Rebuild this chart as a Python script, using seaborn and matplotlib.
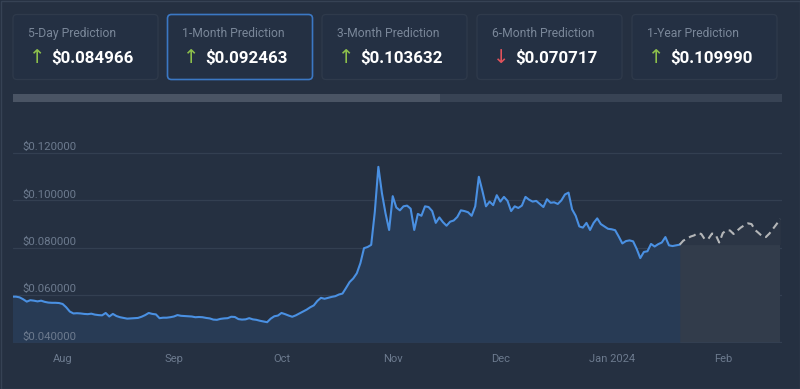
import pandas as pd
import matplotlib.pyplot as plt
import matplotlib.transforms as mtransforms
from matplotlib.patches import FancyBboxPatch, Rectangle
import seaborn as sns

# prediction cards
card_titles = ['5-Day Prediction', '1-Month Prediction', '3-Month Prediction',
               '6-Month Prediction', '1-Year Prediction']
card_values = ['$0.084966', '$0.092463', '$0.103632', '$0.070717', '$0.109990']
card_up = [True, True, True, False, True]
selected_card = 1

# daily closing price, starting 2023-07-18
hist_start = '2023-07-18'
hist_prices = [
    0.0593, 0.0593, 0.0590, 0.0582, 0.0572, 0.0578, 0.0576, 0.0573, 0.0576, 0.0571,
    0.0568, 0.0567, 0.0567, 0.0566,
    0.0562, 0.0548, 0.0530, 0.0522, 0.0523, 0.0522, 0.0520, 0.0519, 0.0521, 0.0517,
    0.0515, 0.0514, 0.0524, 0.0509, 0.0520, 0.0511, 0.0506, 0.0503, 0.0500, 0.0501,
    0.0502, 0.0503, 0.0508, 0.0515, 0.0524, 0.0520, 0.0518, 0.0502, 0.0504, 0.0504,
    0.0506, 0.0509, 0.0515, 0.0512, 0.0511, 0.0510, 0.0509, 0.0506, 0.0507, 0.0506,
    0.0503, 0.0501, 0.0496, 0.0495, 0.0499, 0.0501, 0.0502, 0.0508, 0.0507, 0.0498,
    0.0496, 0.0497, 0.0502, 0.0497, 0.0495, 0.0491, 0.0488, 0.0485, 0.0500, 0.0510,
    0.0513, 0.0524, 0.0519, 0.0513, 0.0508, 0.0514, 0.0522, 0.0530, 0.0538, 0.0548,
    0.0556, 0.0575, 0.0588, 0.0584, 0.0588, 0.0592, 0.0595, 0.0602, 0.0606, 0.0630,
    0.0655, 0.0670, 0.0692, 0.0735, 0.0798, 0.0803, 0.0812, 0.0950, 0.1142, 0.1030,
    0.0945, 0.0875, 0.1018, 0.0970, 0.0958, 0.0975, 0.0978, 0.0965, 0.0875, 0.0943,
    0.0935, 0.0975, 0.0972, 0.0955, 0.0905, 0.0928, 0.0908, 0.0893, 0.0910, 0.0915,
    0.0930, 0.0958, 0.0955, 0.0950, 0.0935, 0.0975, 0.1100, 0.1040, 0.0975, 0.0995,
    0.0980, 0.1022, 0.0995, 0.1015, 0.0998, 0.0955, 0.0975, 0.0968, 0.0978, 0.1015,
    0.1003, 0.0995, 0.0998, 0.0985, 0.0972, 0.1005, 0.0990, 0.0992, 0.0985, 0.1000,
    0.1025, 0.1033, 0.0962, 0.0935, 0.0890, 0.0885, 0.0905, 0.0875, 0.0905, 0.0924,
    0.0900, 0.0890, 0.0880, 0.0878, 0.0874, 0.0847, 0.0818, 0.0828, 0.0831, 0.0827,
    0.0795, 0.0756, 0.0782, 0.0785, 0.0816, 0.0805, 0.0815, 0.0822, 0.0845, 0.0810,
    0.0807, 0.0810, 0.0813,
]
# forecast, starting on the last historical day
forecast_prices = [
    0.0813, 0.0830, 0.0838, 0.0847, 0.0852, 0.0862, 0.0858, 0.0835, 0.0838, 0.0860,
    0.0855, 0.0822, 0.0862, 0.0874, 0.0873, 0.0858, 0.0872, 0.0885, 0.0895, 0.0903,
    0.0900, 0.0875, 0.0862, 0.0848, 0.0845, 0.0860, 0.0880, 0.0900, 0.0922,
]

y_ticks = [0.04, 0.06, 0.08, 0.10, 0.12]
month_ticks = ['2023-08-01', '2023-09-01', '2023-10-01', '2023-11-01',
               '2023-12-01', '2024-01-01', '2024-02-01']
month_labels = ['Aug', 'Sep', 'Oct', 'Nov', 'Dec', 'Jan 2024', 'Feb']

BG = '#253041'
GRID = '#333f51'
MUTED = '#6c7a8e'

hist = pd.DataFrame({'date': pd.date_range(hist_start, periods=len(hist_prices), freq='D'),
                     'price': hist_prices})
fc = pd.DataFrame({'date': pd.date_range(hist['date'].iloc[-1], periods=len(forecast_prices), freq='D'),
                   'price': forecast_prices})

sns.set_style('dark')
plt.rcParams['font.family'] = ['Roboto', 'DejaVu Sans']

fig = plt.figure(figsize=(8, 3.89), dpi=100, facecolor=BG)

# background layer in pixel coordinates for the cards and scrollbar
bg = fig.add_axes([0, 0, 1, 1], zorder=0)
bg.set_xlim(0, 800)
bg.set_ylim(389, 0)
bg.axis('off')
bg.add_patch(Rectangle((0.5, 0.5), 799, 388, facecolor=BG, edgecolor='#364254', lw=1))

card_x = [13, 167.5, 322, 477, 632]
for i, (title, value, up) in enumerate(zip(card_titles, card_values, card_up)):
    x0 = card_x[i]
    edge = '#3b78c4' if i == selected_card else '#2f3a4b'
    bg.add_patch(FancyBboxPatch((x0, 14.5), 145, 65, boxstyle='round,pad=0,rounding_size=4',
                                facecolor='#243043', edgecolor=edge, lw=1.2 if i == selected_card else 0.9))
    bg.text(x0 + 15, 33, title, color='#7a8799', fontsize=8.7, va='center', ha='left')
    bg.text(x0 + 24, 57.5, '↑' if up else '↓', color='#8dc04b' if up else '#e1525b',
            fontsize=14, va='center', ha='center', family=['DejaVu Sans'])
    bg.text(x0 + 38, 57.5, value, color='white', fontsize=12.2, fontweight='bold',
            va='center', ha='left')

bg.add_patch(Rectangle((13, 94), 769, 8, facecolor='#384354', edgecolor='none'))
bg.add_patch(Rectangle((13, 94), 427, 8, facecolor='#4a5464', edgecolor='none'))

# price chart
ax = fig.add_axes([13 / 800, (389 - 343) / 389, 769 / 800, 201.7 / 389], zorder=1)
ax.set_facecolor('none')
ax.set_xlim(pd.Timestamp('2023-07-18 04:00'), pd.Timestamp('2024-02-17 12:00'))
ax.set_ylim(0.0397, 0.125)

ax.fill_between(fc['date'], 0.04, fc['price'].iloc[0], color='#323c4b', lw=0, zorder=1)
ax.fill_between(fc['date'], fc['price'].iloc[0], fc['price'], color='#2b3545', lw=0, zorder=1)
ax.fill_between(hist['date'], 0.04, hist['price'], color='#283b55', lw=0, zorder=1)

sns.lineplot(data=hist, x='date', y='price', ax=ax, color='#4a90e2', lw=1.5, zorder=3)
sns.lineplot(data=fc, x='date', y='price', ax=ax, color='#b4b6b8', lw=1.5, zorder=3,
             linestyle=(0, (3.5, 2.2)))

ax.set_yticks(y_ticks)
ax.set_yticklabels([])
ax.grid(axis='y', color=GRID, lw=0.9)
ax.grid(axis='x', visible=False)
ax.tick_params(axis='both', length=0)
ax.set_xticks(pd.to_datetime(month_ticks))
ax.set_xticklabels(month_labels, color=MUTED, fontsize=8)
ax.tick_params(axis='x', pad=8)
ax.set_xlabel('')
ax.set_ylabel('')
for s in ax.spines.values():
    s.set_visible(False)

trans = mtransforms.blended_transform_factory(ax.transAxes, ax.transData)
for v in y_ticks:
    ax.annotate(f'${v:.6f}', (9 / 769, v), xycoords=trans, xytext=(0, 0.5),
                textcoords='offset points', color=MUTED, fontsize=8.2, va='bottom', ha='left')

fig.savefig('out.png', dpi=100, facecolor=BG)
